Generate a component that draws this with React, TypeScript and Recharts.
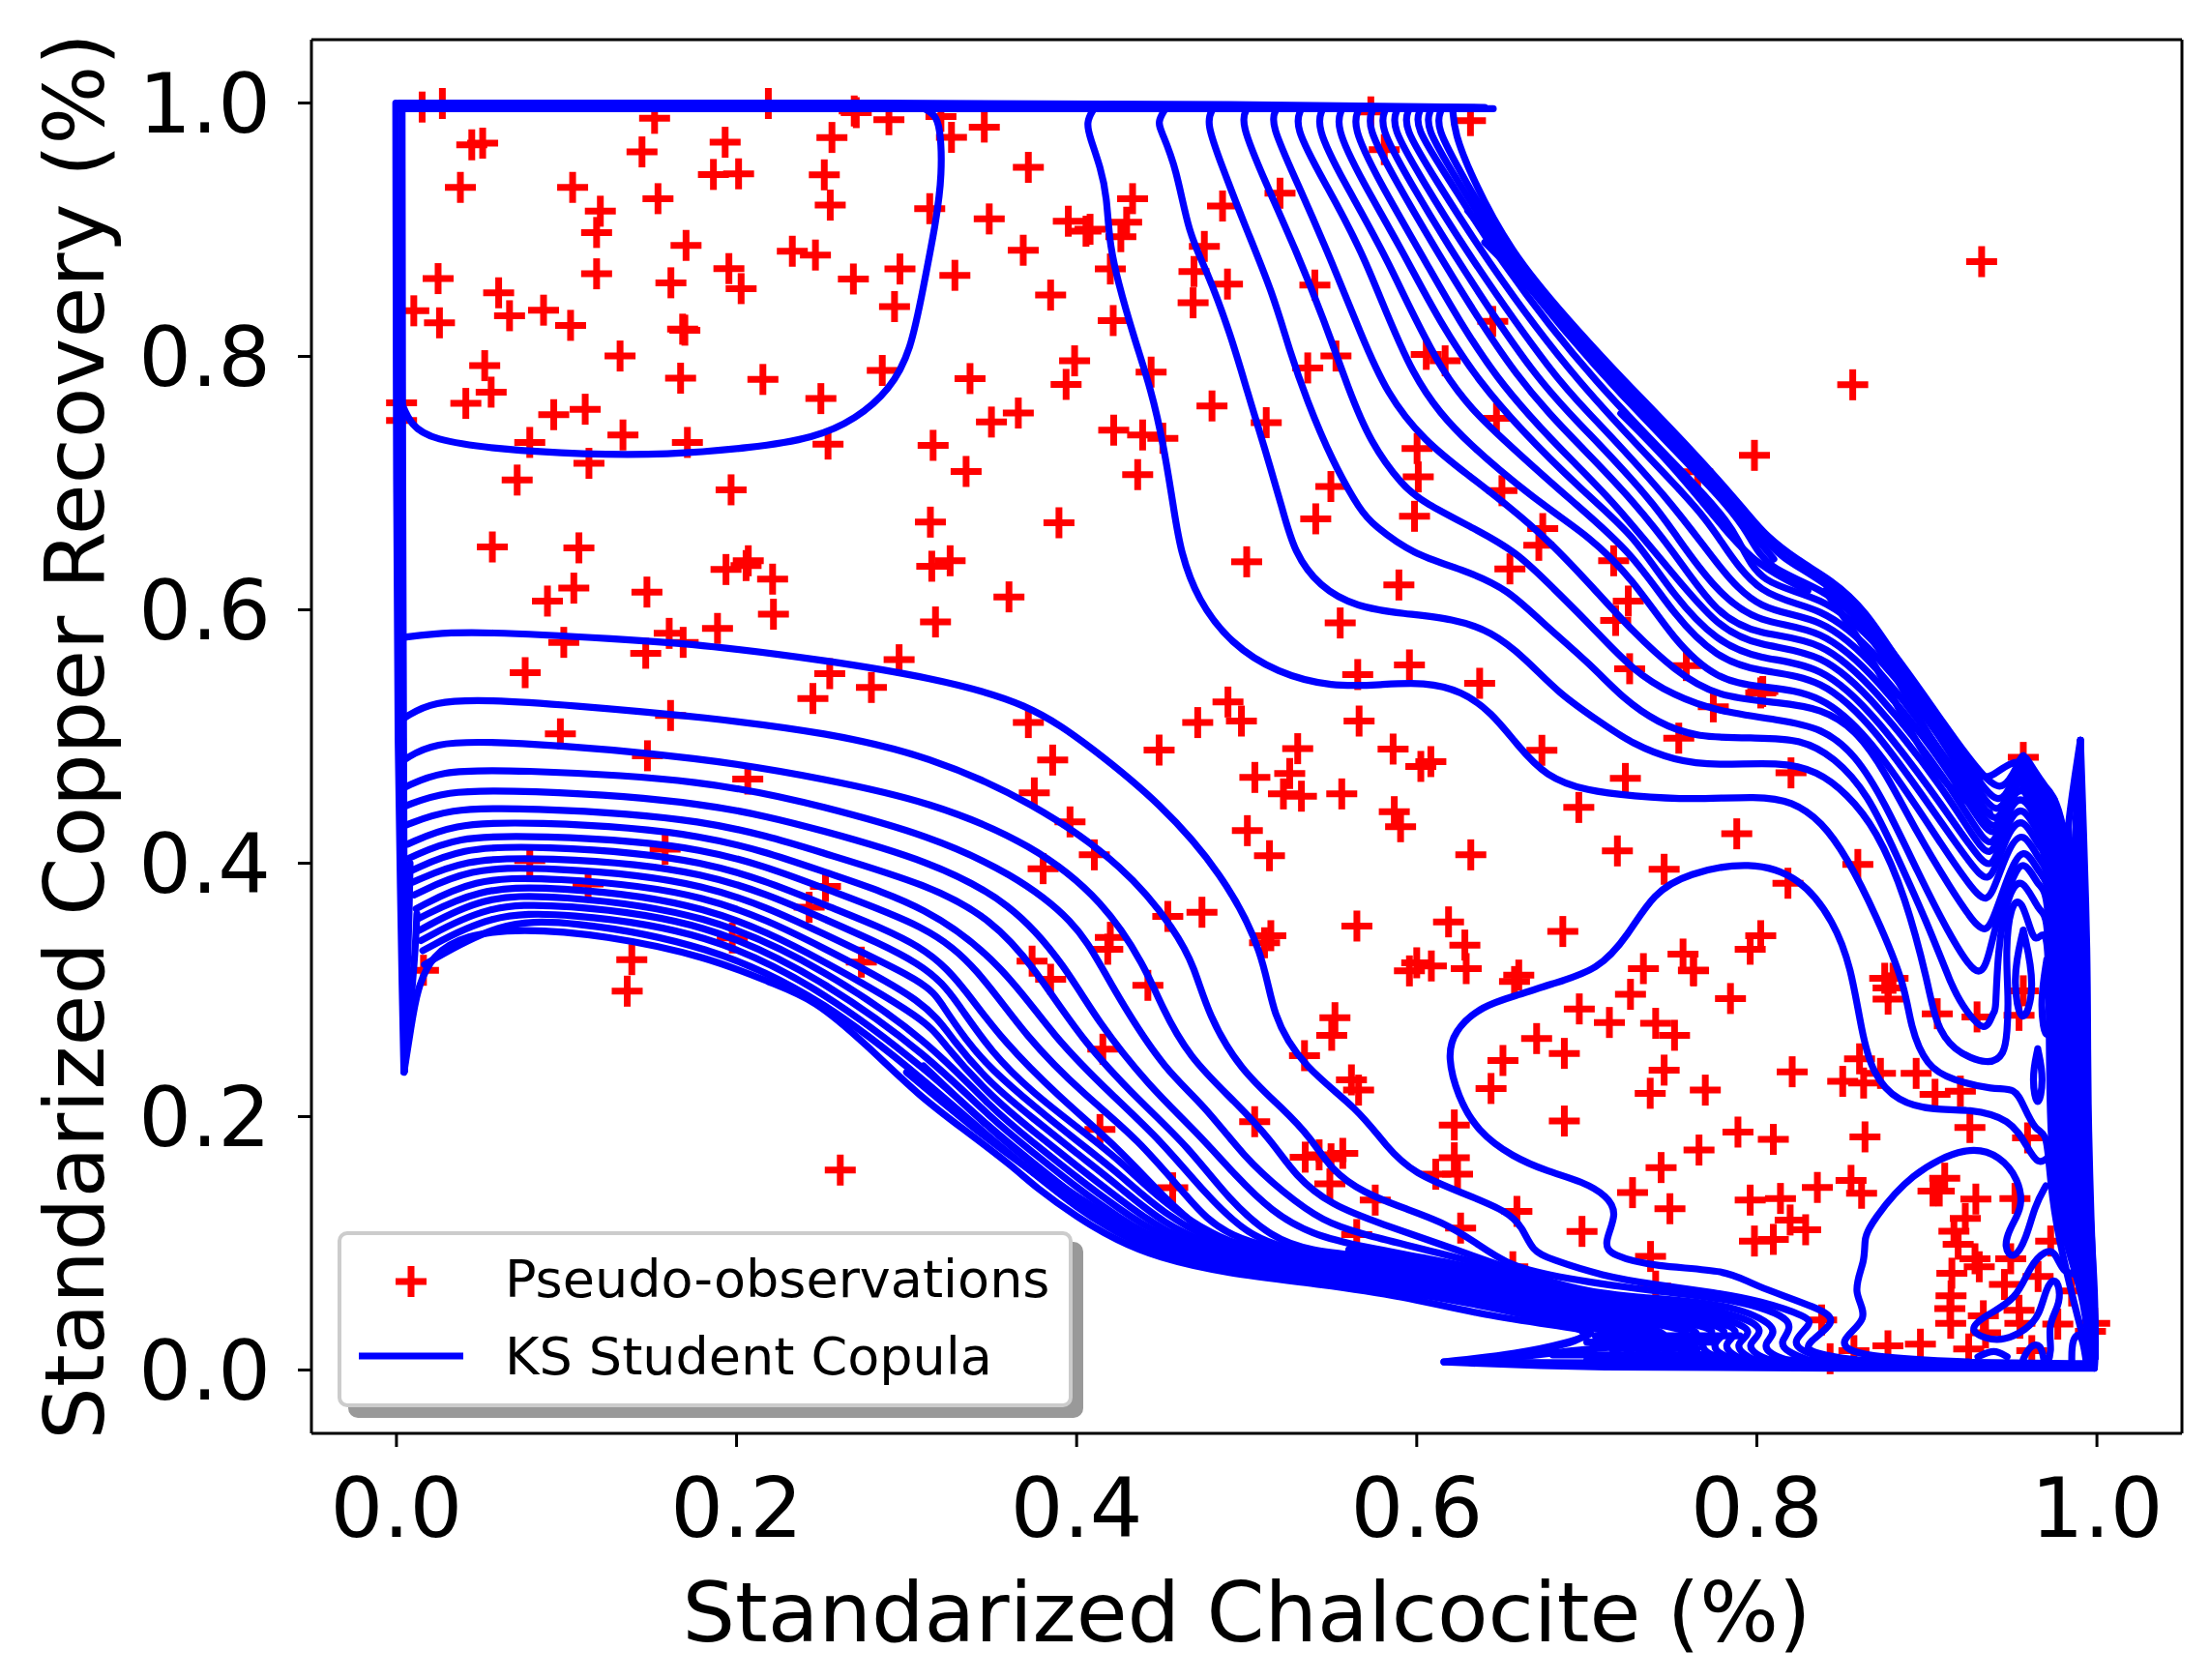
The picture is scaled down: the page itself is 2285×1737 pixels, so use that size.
import React from 'react';
import { ComposedChart, Scatter, Line, XAxis, YAxis, ReferenceLine, Legend, Label } from 'recharts';

type Pair = [number, number];

const FONT = '"DejaVu Sans", sans-serif';
const BLUE = '#0000ff';
const RED = '#ff0000';

const tickValues = [0, 0.2, 0.4, 0.6, 0.8, 1.0];
const legendNames = ['Pseudo-observations', 'KS Student Copula'];

// pseudo-observations
const observations: Pair[] = [
  [.0151,.9968],[.027,.9996],[.2187,.9996],[.2692,.9937],[.2704,.9924],[.2896,.9868],[.1518,.9879],[.0443,.967],[.0507,.9683],[.1933,.969],
  [.2561,.9728],[.1444,.9614],[.1864,.9436],[.2012,.9441],[.2516,.9433],[.0376,.9334],[.1036,.9334],[.1538,.9245],[.1199,.9146],[.2551,.9194],
  [.3136,.9166],[.1177,.8978],[.1703,.8876],[.2328,.883],[.2464,.88],[.1177,.8652],[.1955,.8693],[.2961,.869],[.0245,.8614],[.2687,.8611],
  [.1614,.8581],[.2027,.8535],[.0601,.8502],[.0865,.8365],[.0102,.836],[.0665,.8321],[.2929,.8393],[.0253,.8265],[.1024,.8245],[.1683,.8215],
  [.1696,.8207],[.1315,.8003],[.0519,.7927],[.1671,.7828],[.2155,.7818],[.2857,.7889],[.0557,.7718],[.0408,.7629],[.003,.7634],[.003,.7494],
  [.111,.7583],[.0925,.754],[.2496,.7667],[.1332,.738],[.0784,.7321],[.1711,.7321],[.2538,.7308],[.3156,.7298],[.1132,.7156],[.071,.7024],
  [.1968,.6947],[.6316,.9861],[.573,.993],[.5809,.9632],[.3202,.9894],[.3264,.9729],[.3457,.981],[.3716,.9492],[.4329,.9245],[.3486,.9085],
  [.3951,.9067],[.4055,.8988],[.4079,.9003],[.4294,.9059],[.426,.8945],[.3686,.8838],[.3284,.864],[.4198,.869],[.469,.867],[.4751,.8868],
  [.4858,.9187],[.5196,.9288],[.4887,.8571],[.4685,.8423],[.3847,.8484],[.4215,.8283],[.5401,.8563],[.6447,.8276],[.3988,.7965],[.4438,.7876],
  [.3373,.7825],[.3938,.7779],[.5359,.7909],[.5525,.8003],[.6056,.8016],[.6167,.7965],[.4796,.7609],[.5115,.7477],[.3657,.7553],[.3499,.7482],
  [.4218,.7418],[.4388,.738],[.4507,.7354],[.6469,.7512],[.6002,.7273],[.6009,.7049],[.335,.7092],[.4359,.7067],[.5495,.6973],[.6501,.694],
  [.314,.6692],[.3896,.6687],[.5406,.6718],[.5987,.6738],[.3256,.6387],[.5,.6379],[.3148,.6344],[.6741,.6641],[.6718,.6509],[.6548,.6323],
  [.5895,.6196],[.3602,.6102],[.317,.5904],[.555,.5896],[.5957,.5565],[.5653,.5489],[.637,.542],[.489,.5272],[.4969,.5122],[.4712,.511],
  [.3716,.511],[.5661,.5122],[.6736,.4891],[.53,.4904],[.5861,.4901],[.4485,.4893],[.3859,.4814],[.6083,.4802],[.6024,.4764],[.5253,.4708],
  [.5048,.4677],[.3751,.4555],[.5216,.4547],[.5322,.4529],[.5559,.4547],[.6953,.444],[.5868,.4407],[.5905,.4288],[.3961,.4326],[.5004,.4257],
  [.5134,.4059],[.6318,.4066],[.4104,.4066],[.3803,.3957],[.4536,.358],[.4737,.3613],[.4198,.3415],[.4183,.3321],[.3738,.3227],[.3847,.3084],
  [.5648,.3504],[.6187,.3537],[.6283,.3354],[.6859,.3461],[.5142,.3428],[.5105,.3372],[.6,.3214],[.6086,.3189],[.5957,.315],[.6291,.3168],
  [.66,.3117],[.6575,.3066],[.4419,.3036],[.0564,.6496],[.1073,.6489],[.2069,.6387],[.2056,.6349],[.1938,.6318],[.2212,.6242],[.1043,.6171],
  [.0888,.6069],[.1473,.614],[.2217,.5965],[.1888,.5853],[.1604,.5814],[.1686,.5743],[.0984,.5743],[.1466,.5657],[.2956,.5606],[.0757,.5504],
  [.2548,.5496],[.2793,.5387],[.2449,.53],[.1612,.5166],[.0964,.5021],[.1476,.4848],[.2066,.4664],[.158,.411],[.0784,.4021],[.1127,.3835],
  [.2523,.3817],[.2427,.3652],[.1975,.341],[.2734,.3219],[.1384,.3239],[.1357,.299],[.0159,.3155],[.261,.1578],[.4154,.2532],[.4137,.1898],
  [.4565,.1438],[.5047,.196],[.5519,.2781],[.55,.2642],[.534,.2481],[.5616,.229],[.5658,.2209],[.6221,.1934],[.6221,.1675],[.624,.1545],
  [.6112,.1545],[.5344,.168],[.5426,.1698],[.5565,.171],[.5496,.1667],[.5489,.1469],[.5756,.1341],[.5647,.1069],[.6258,.112],[.6589,.1252],
  [.6565,.0815],[.6972,.1094],[.6868,.1965],[.6705,.2616],[.6507,.2443],[.6437,.2222],[.6868,.2499],[.6956,.285],[.7627,.3156],[.7333,.3168],
  [.7257,.2965],[.7845,.2932],[.7133,.2743],[.7405,.2736],[.7516,.2642],[.7455,.2367],[.7373,.2184],[.7697,.2209],[.7889,.1878],[.8097,.182],
  [.766,.1736],[.7437,.1598],[.7269,.14],[.7489,.1273],[.7375,.0896],[.7405,.0662],[.7961,.1341],[.8139,.1354],[.8356,.1441],[.8554,.1497],
  [.8616,.1395],[.8196,.1184],[.8287,.1107],[.7986,.1018],[.8097,.1031],[.8636,.184],[.8208,.2354],[.8505,.2278],[.8604,.2456],[.8727,.2341],
  [.8628,.2265],[.8937,.2341],[.9048,.2176],[.9197,.2201],[.9253,.1914],[.9592,.1832],[.8752,.3092],[.8801,.3092],[.8772,.3016],[.8772,.2927],
  [.9061,.2812],[.9295,.2787],[.9567,.2993],[.9542,.2799],[.9105,.1514],[.9073,.1413],[.9036,.1413],[.9288,.1349],[.9518,.1354],[.9226,.1196],
  [.9159,.1095],[.9184,.0993],[.9283,.0878],[.9308,.0815],[.9147,.0764],[.9493,.0878],[.9456,.0675],[.9728,.1018],[.9654,.0738],[.9851,.0624],
  [.9142,.0585],[.9135,.0484],[.9332,.0428],[.9542,.0471],[.9547,.0369],[.914,.0369],[.977,.0362],[.9987,.0369],[.9345,.0293],[.8771,.0191],
  [.8962,.0204],[.8571,.0153],[.8431,.0089],[.9246,.0166],[.9617,.0153],[.8381,.0395],[.9962,.0306],[.9322,.8748],[.8564,.7776],[.7986,.7219],
  [.7652,.7089],[.7158,.6387],[.7244,.6069],[.717,.5916],[.7252,.5535],[.7585,.556],[.7744,.5234],[.8023,.5344],[.8035,.5355],[.7541,.4987],
  [.7227,.4669],[.8201,.4713],[.7882,.4232],[.718,.4097],[.7455,.3952],[.8594,.399],[.8183,.3842],[.7566,.3283],[.7628,.315],[.8023,.3428],
  [.7961,.3321],[.9567,.4835],
];

// outlines along the top and left of the unit square
const topEdgeA: Pair[] = [[.0015,1.0],[.3,1.0],[.5,.999],[.64,.9965]];
const topEdgeB: Pair[] = [[.0015,.9955],[.3,.9955],[.5,.9955],[.645,.9955]];
const leftEdgeA: Pair[] = [[-.0004,1.0],[0,.6845],[.0009,.48],[.0024,.379],[.0033,.303],[.0044,.236]];
const leftEdgeB: Pair[] = [[.0033,.998],[.0036,.7],[.0042,.5],[.0048,.236]];
const spikeA: Pair[] = [[.0044,.236],[.006,.30],[.0075,.36],[.008,.40]];
const spikeB: Pair[] = [[.0044,.236],[.0085,.29],[.011,.33],[.012,.36]];
const cornerLoop: Pair[] = [[.003,.7634],[.0085,.7456],[.0208,.7342],[.0603,.7265],[.1098,.7227],[.1592,.7222],[.2086,.7278],[.2457,.7354],[.2704,.7507],[.2901,.7736],[.3025,.804],[.3099,.855],[.3173,.9059],[.321,.9441],[.3198,.9823],[.3161,.9912],[.3112,.995]];

// lower family, left edge into the band above the x axis
const low01: Pair[] = [[.003,.578],[.02,.581],[.048,.583],[.131,.577],[.1839,.572],[.2531,.56],[.3128,.547],[.372,.527],[.41,.49],[.4487,.448],[.4858,.392],[.5105,.328],[.5147,.28],[.5333,.239],[.5658,.206],[.5821,.176],[.5984,.155],[.6263,.14],[.6542,.125],[.6623,.112],[.6681,.094],[.6775,.088],[.7096,.074],[.7393,.0675],[.7763,.061],[.8011,.055],[.8307,.042],[.832,.036],[.8208,.023],[.8258,.015],[.8406,.009]];
const low02: Pair[] = [[.005,.515],[.021,.528],[.055,.529],[.1,.525],[.1839,.515],[.2531,.503],[.3128,.485],[.3746,.448],[.4289,.397],[.4586,.346],[.4693,.318],[.4775,.28],[.4961,.237],[.5216,.206],[.5379,.183],[.5496,.158],[.5682,.14],[.594,.127],[.6147,.117],[.6333,.102],[.6519,.084],[.6775,.074],[.7393,.062],[.7887,.056],[.8258,.039],[.8122,.022],[.8183,.014],[.83,.008]];
const low03: Pair[] = [[.005,.482],[.0208,.495],[.06,.497],[.1839,.483],[.2531,.466],[.3128,.449],[.3746,.415],[.4166,.369],[.4403,.318],[.4496,.288],[.4658,.247],[.4937,.211],[.5147,.181],[.5286,.153],[.5496,.13],[.5798,.115],[.6147,.099],[.6519,.081],[.70,.06],[.75,.056],[.79,.05],[.815,.032],[.803,.021],[.808,.012],[.82,.007]];
const low04: Pair[] = [[.005,.46],[.0258,.473],[.065,.474],[.1839,.466],[.2531,.444],[.3128,.422],[.3622,.392],[.3993,.354],[.4147,.318],[.4286,.285],[.4519,.237],[.4751,.209],[.4984,.168],[.5216,.14],[.5449,.117],[.5682,.107],[.6147,.092],[.66,.076],[.70,.058],[.75,.052],[.79,.044],[.806,.031],[.794,.021],[.799,.012],[.81,.007]];
const low05: Pair[] = [[.005,.445],[.0282,.457],[.07,.458],[.1839,.449],[.2531,.425],[.3128,.402],[.3622,.369],[.3937,.318],[.4123,.275],[.4426,.224],[.4705,.188],[.4937,.153],[.5147,.125],[.5379,.107],[.5682,.097],[.62,.085],[.66,.072],[.70,.056],[.75,.049],[.785,.04],[.799,.03],[.787,.021],[.792,.012],[.80,.007]];
const low06: Pair[] = [[.0055,.43],[.0307,.443],[.072,.444],[.1839,.436],[.2531,.407],[.3128,.383],[.3499,.356],[.3751,.318],[.403,.26],[.4379,.211],[.4658,.176],[.4891,.135],[.5147,.104],[.5379,.094],[.5682,.09],[.62,.082],[.66,.069],[.70,.054],[.75,.046],[.78,.038],[.791,.03],[.78,.021],[.785,.012],[.795,.007]];
const low07: Pair[] = [[.0065,.415],[.0332,.431],[.075,.433],[.1839,.425],[.2531,.392],[.3128,.366],[.3577,.318],[.3868,.262],[.4216,.216],[.4496,.181],[.4751,.14],[.503,.102],[.54,.091],[.60,.084],[.66,.066],[.70,.052],[.75,.043],[.775,.036],[.784,.03],[.773,.021],[.778,.012],[.79,.007]];
const low08: Pair[] = [[.0075,.404],[.0356,.421],[.078,.422],[.1839,.415],[.2531,.379],[.3128,.35],[.3414,.318],[.3705,.262],[.4054,.216],[.4356,.183],[.4658,.135],[.4868,.104],[.54,.089],[.60,.082],[.66,.064],[.70,.05],[.75,.04],[.77,.034],[.776,.03],[.766,.021],[.771,.012],[.785,.007]];
const low09: Pair[] = [[.0085,.394],[.0381,.412],[.08,.414],[.1839,.405],[.2531,.366],[.3128,.335],[.3356,.298],[.3565,.26],[.3891,.216],[.424,.176],[.4519,.135],[.4751,.108],[.4868,.102],[.54,.086],[.60,.08],[.66,.062],[.70,.048],[.75,.037],[.769,.03],[.759,.021],[.764,.012],[.78,.007]];
const low10: Pair[] = [[.0095,.385],[.0406,.403],[.082,.405],[.1839,.396],[.2531,.355],[.3128,.32],[.33,.29],[.35,.25],[.375,.218],[.40,.192],[.425,.166],[.45,.133],[.4868,.099],[.54,.084],[.60,.077],[.66,.06],[.70,.046],[.75,.034],[.762,.03],[.752,.021],[.757,.012],[.775,.007]];
const low11: Pair[] = [[.0105,.375],[.0431,.396],[.085,.397],[.1839,.387],[.2531,.343],[.3128,.305],[.32,.29],[.335,.26],[.35,.237],[.375,.208],[.40,.181],[.425,.155],[.45,.124],[.4868,.096],[.54,.082],[.60,.075],[.66,.058],[.70,.044],[.752,.03],[.742,.021],[.747,.012],[.77,.007]];
const low12: Pair[] = [[.0115,.364],[.0455,.388],[.088,.389],[.1839,.378],[.2531,.332],[.3128,.29],[.327,.26],[.35,.225],[.375,.198],[.40,.171],[.425,.145],[.45,.116],[.4868,.093],[.54,.08],[.60,.073],[.66,.056],[.70,.042],[.744,.03],[.734,.021],[.739,.012],[.76,.007]];
const low13: Pair[] = [[.0125,.356],[.048,.38],[.09,.382],[.1839,.369],[.2531,.322],[.3128,.275],[.32,.26],[.35,.215],[.375,.188],[.40,.161],[.425,.135],[.45,.11],[.4868,.09],[.54,.078],[.60,.071],[.66,.054],[.70,.04],[.737,.03],[.727,.021],[.732,.012],[.75,.007]];
const low14: Pair[] = [[.0135,.347],[.0505,.374],[.092,.375],[.1839,.361],[.2531,.315],[.3128,.26],[.35,.206],[.375,.179],[.40,.152],[.425,.127],[.45,.105],[.4868,.087],[.54,.076],[.60,.069],[.66,.052],[.70,.038],[.729,.03],[.72,.021],[.725,.012],[.74,.007]];
const low15: Pair[] = [[.0145,.339],[.053,.367],[.095,.368],[.1839,.354],[.2531,.306],[.3128,.248],[.35,.198],[.375,.171],[.40,.144],[.425,.12],[.45,.1],[.4868,.084],[.54,.074],[.60,.067],[.66,.05],[.70,.036],[.722,.03],[.712,.021],[.717,.012],[.73,.007]];
const low16: Pair[] = [[.0155,.331],[.0554,.36],[.098,.361],[.1839,.346],[.2531,.298],[.3128,.236],[.35,.19],[.375,.163],[.40,.136],[.425,.113],[.45,.096],[.4868,.081],[.54,.072],[.60,.064],[.66,.048],[.70,.034],[.715,.03],[.705,.022],[.70,.012],[.72,.006]];
const low17: Pair[] = [[.0165,.32],[.0604,.354],[.10,.355],[.1839,.336],[.2531,.291],[.3128,.226],[.35,.182],[.375,.155],[.40,.128],[.425,.107],[.45,.092],[.4868,.0785],[.54,.07],[.60,.061],[.66,.045],[.707,.031],[.69,.02],[.65,.01],[.62,.0065],[.70,.004]];
const low18: Pair[] = [[.0044,.235],[.0085,.27],[.012,.30],[.0208,.328],[.0406,.3435],[.0727,.3486],[.1221,.3435],[.1839,.326],[.221,.305],[.2456,.2927],[.2763,.257],[.3072,.2163],[.3356,.188],[.363,.16],[.3751,.145],[.4007,.12],[.424,.102],[.4472,.089],[.4868,.0764],[.5449,.0675],[.5914,.0585],[.6379,.0433],[.7003,.0318],[.705,.029],[.69,.022],[.66,.013],[.616,.0064]];
const lowFillA: Pair[] = [[.30,.235],[.34,.19],[.37,.16],[.40,.132],[.43,.105],[.47,.085]];
const lowFillB: Pair[] = [[.31,.24],[.345,.195],[.38,.155],[.41,.128],[.44,.105]];

// bottom edge and the wedge below the band
const bottomEdgeA: Pair[] = [[.616,.0064],[.70,.0015],[.85,.0015],[.9985,.0015]];
const bottomEdgeB: Pair[] = [[.66,.006],[.75,.005],[.85,.007],[.93,.006],[.997,.005]];
const wedgeA: Pair[] = [[.62,.0065],[.66,.01],[.70,.017],[.74,.02]];
const bandA: Pair[] = [[.70,.036],[.72,.036],[.74,.036]];
const bandB: Pair[] = [[.705,.027],[.75,.027],[.79,.027]];
const bandC: Pair[] = [[.70,.022],[.74,.022],[.775,.022]];
const bandD: Pair[] = [[.72,.017],[.74,.017],[.765,.017]];
const bandE: Pair[] = [[.68,.012],[.72,.012],[.77,.012]];
const bandF: Pair[] = [[.70,.008],[.78,.008],[.84,.008]];
const bandG: Pair[] = [[.5,.095],[.56,.087],[.62,.077],[.68,.058],[.72,.05],[.76,.045]];
const bandH: Pair[] = [[.5,.085],[.56,.079],[.62,.068],[.68,.05],[.72,.042],[.76,.039]];
const bandI: Pair[] = [[.48,.085],[.56,.072],[.62,.061],[.68,.042],[.72,.04]];
const bandJ: Pair[] = [[.56,.095],[.62,.08],[.68,.064],[.74,.05],[.78,.046]];

// upper family, top edge round the hump into the right edge
const up01: Pair[] = [[.41,.995],[.4055,.985],[.408,.972],[.4141,.949],[.4178,.926],[.4191,.891],[.424,.86],[.4339,.814],[.4438,.774],[.4512,.73],[.4574,.677],[.4611,.646],[.471,.608],[.4907,.573],[.518,.55],[.55,.539],[.5797,.541],[.6044,.543],[.6266,.536],[.644,.519],[.6587,.494],[.676,.468],[.7003,.457],[.7269,.453],[.7615,.45],[.8011,.453],[.8208,.449],[.8381,.433],[.8529,.405],[.8702,.359],[.8875,.303],[.89,.272],[.8999,.239],[.9147,.229],[.9394,.221],[.9518,.223],[.9567,.209],[.9641,.188],[.9703,.188],[.972,.16],[.975,.12],[.985,.06],[.995,.01]];
const up02: Pair[] = [[.452,.995],[.4475,.985],[.45,.977],[.4586,.949],[.466,.896],[.4759,.87],[.4907,.817],[.5006,.771],[.5105,.728],[.5216,.677],[.5278,.646],[.5426,.618],[.5648,.602],[.592,.597],[.6217,.593],[.6439,.583],[.6637,.562],[.6835,.534],[.7072,.512],[.7269,.494],[.7516,.481],[.7763,.477],[.8134,.48],[.8356,.473],[.8529,.455],[.8702,.427],[.8875,.374],[.9011,.303],[.9048,.275],[.9147,.252],[.9369,.24],[.9456,.249],[.9472,.2661],[.9481,.293],[.9462,.331],[.9491,.367],[.9557,.374],[.9624,.338],[.9662,.342],[.9709,.347],[.972,.3],[.972,.2],[.976,.12],[.9925,.06],[.996,.01]];
const up03: Pair[] = [[.48,.995],[.4759,.985],[.4858,.949],[.4981,.906],[.5154,.85],[.5253,.804],[.5352,.766],[.55,.718],[.5673,.677],[.5747,.667],[.597,.644],[.6291,.631],[.6538,.616],[.6736,.59],[.7022,.557],[.722,.529],[.7417,.511],[.764,.499],[.8011,.499],[.8258,.498],[.8455,.484],[.8653,.455],[.8826,.405],[.8999,.354],[.9147,.303],[.9197,.29],[.9345,.263],[.9394,.285],[.9405,.2805],[.9415,.331],[.9472,.374],[.9557,.392],[.9662,.36],[.9709,.362],[.9725,.3],[.973,.2],[.977,.12],[.993,.06],[.996,.01]];
const up04: Pair[] = [[.5,.995],[.4961,.985],[.5105,.939],[.5302,.88],[.5451,.83],[.5599,.774],[.5723,.733],[.592,.697],[.6044,.6845],[.634,.664],[.6587,.646],[.681,.616],[.7022,.588],[.7269,.552],[.7516,.532],[.7763,.52],[.8134,.513],[.8381,.507],[.858,.486],[.8752,.448],[.895,.392],[.9122,.346],[.9295,.308],[.9357,.321],[.9407,.354],[.9493,.385],[.9567,.406],[.966,.38],[.971,.38],[.974,.3],[.974,.2],[.978,.12],[.9935,.06],[.9965,.01]];
const up05: Pair[] = [[.5175,.995],[.5134,.985],[.5302,.936],[.55,.875],[.5673,.817],[.5821,.771],[.6044,.733],[.6316,.705],[.6538,.682],[.6775,.655],[.7047,.616],[.7269,.583],[.7516,.552],[.7763,.531],[.8134,.527],[.8381,.522],[.858,.506],[.8752,.473],[.895,.422],[.9122,.384],[.932,.343],[.9382,.351],[.9468,.387],[.9567,.417],[.9666,.39],[.9728,.385],[.975,.3],[.975,.2],[.979,.12],[.994,.06],[.9965,.01]];
const up06: Pair[] = [[.532,.995],[.5278,.982],[.5445,.94],[.5698,.88],[.597,.78],[.63,.73],[.6775,.679],[.7003,.659],[.7269,.625],[.7516,.575],[.7763,.545],[.8011,.539],[.8381,.535],[.8702,.494],[.9122,.407],[.932,.369],[.9382,.373],[.947,.41],[.9567,.428],[.9666,.4],[.9725,.396],[.976,.3],[.976,.2],[.98,.12],[.9945,.06],[.997,.01]];
const up07: Pair[] = [[.5446,.995],[.5406,.982],[.556,.94],[.5821,.88],[.6155,.78],[.65,.735],[.6923,.6845],[.7269,.645],[.7516,.595],[.7763,.562],[.8011,.551],[.8381,.547],[.8702,.506],[.9122,.425],[.933,.385],[.939,.39],[.9475,.425],[.9567,.438],[.9666,.41],[.9735,.405],[.977,.3],[.977,.2],[.981,.12],[.995,.06],[.997,.01]];
const up08: Pair[] = [[.556,.995],[.552,.982],[.567,.94],[.5933,.88],[.6315,.78],[.7047,.6845],[.7269,.66],[.7516,.61],[.7763,.575],[.8011,.561],[.8381,.557],[.8702,.516],[.9122,.44],[.934,.396],[.94,.4],[.948,.435],[.9567,.447],[.9666,.42],[.974,.412],[.978,.3],[.979,.2],[.982,.12],[.9955,.06],[.9975,.01]];
const up09: Pair[] = [[.5659,.995],[.5619,.982],[.577,.94],[.6031,.88],[.645,.78],[.7003,.706],[.7158,.6845],[.7516,.627],[.7763,.587],[.8011,.571],[.8381,.567],[.8702,.527],[.9122,.455],[.934,.405],[.94,.41],[.9485,.445],[.9567,.455],[.9666,.43],[.975,.42],[.979,.3],[.98,.2],[.983,.12],[.996,.06],[.9975,.01]];
const up10: Pair[] = [[.5743,.995],[.5703,.982],[.587,.94],[.613,.88],[.659,.78],[.7003,.724],[.7282,.6845],[.7516,.645],[.7763,.596],[.8011,.58],[.8381,.577],[.8702,.537],[.9122,.466],[.9348,.412],[.941,.418],[.949,.452],[.9567,.462],[.9666,.44],[.976,.428],[.98,.3],[.982,.2],[.985,.12],[.9965,.06],[.998,.01]];
const up11: Pair[] = [[.5817,.995],[.5777,.982],[.595,.94],[.6217,.88],[.671,.78],[.7003,.741],[.7393,.6845],[.7516,.66],[.7763,.614],[.8011,.589],[.8381,.586],[.8702,.547],[.9122,.476],[.9358,.421],[.942,.425],[.95,.458],[.9567,.468],[.9666,.448],[.977,.436],[.982,.3],[.984,.2],[.987,.12],[.997,.06],[.998,.01]];
const up12: Pair[] = [[.5886,.995],[.5846,.982],[.603,.94],[.6303,.88],[.683,.78],[.7003,.757],[.7504,.6845],[.7763,.636],[.8011,.598],[.8381,.595],[.8702,.557],[.9122,.483],[.9362,.426],[.943,.43],[.951,.462],[.9567,.473],[.9666,.452],[.978,.442],[.984,.3],[.986,.2],[.989,.12],[.9975,.06],[.9985,.01]];
const up13: Pair[] = [[.5955,.995],[.5915,.982],[.611,.94],[.639,.88],[.693,.78],[.7628,.6845],[.7763,.66],[.8011,.609],[.8381,.603],[.8702,.567],[.9122,.494],[.9367,.432],[.944,.436],[.952,.466],[.9567,.477],[.9666,.455],[.979,.445],[.986,.3],[.988,.2],[.991,.12],[.998,.06],[.9985,.01]];
const up14: Pair[] = [[.6022,.995],[.5982,.982],[.619,.94],[.6464,.88],[.703,.78],[.7751,.6845],[.79,.655],[.8011,.62],[.8381,.611],[.8702,.577],[.9122,.5],[.937,.44],[.945,.443],[.953,.47],[.9567,.481],[.9666,.459],[.98,.45],[.988,.3],[.99,.2],[.993,.12],[.998,.06],[.999,.01]];
const up15: Pair[] = [[.6084,.995],[.6044,.982],[.6235,.94],[.6505,.88],[.712,.78],[.7825,.6845],[.795,.66],[.8058,.632],[.8381,.618],[.8702,.583],[.9122,.503],[.9375,.449],[.946,.45],[.954,.475],[.9567,.484],[.9666,.462],[.981,.45],[.99,.3],[.992,.2],[.995,.12],[.9985,.06],[.999,.01]];
const up16: Pair[] = [[.6146,.995],[.6106,.982],[.628,.94],[.6535,.88],[.718,.78],[.7875,.6845],[.80,.662],[.815,.64],[.8381,.624],[.8702,.588],[.9122,.505],[.938,.459],[.947,.46],[.955,.482],[.9567,.488],[.9666,.465],[.982,.44],[.992,.3],[.993,.2],[.996,.12],[.999,.06],[.999,.01]];
const up17: Pair[] = [[.6212,.995],[.6221,.977],[.632,.942],[.6567,.878],[.6983,.815],[.7175,.787],[.762,.726],[.7953,.675],[.804,.66],[.8238,.639],[.8435,.624],[.8633,.601],[.8855,.555],[.9102,.504],[.93,.469],[.9369,.4655],[.9555,.4885],[.9695,.459],[.9782,.425],[.984,.33]];

// where the upper lines run together
const massA: Pair[] = [[.84,.615],[.86,.578],[.88,.532],[.90,.478],[.9246,.445],[.9369,.44]];
const massB: Pair[] = [[.84,.622],[.865,.585],[.885,.54],[.905,.49],[.93,.452]];
const massC: Pair[] = [[.845,.62],[.87,.582],[.89,.535],[.91,.495],[.933,.46]];
const massD: Pair[] = [[.68,.835],[.70,.80],[.73,.762],[.76,.722],[.79,.675]];
const massE: Pair[] = [[.64,.89],[.67,.85],[.70,.805],[.73,.765],[.76,.72],[.785,.68],[.81,.64]];
const massF: Pair[] = [[.63,.915],[.66,.865],[.69,.815],[.72,.77],[.75,.73],[.775,.695]];
const massG: Pair[] = [[.72,.755],[.75,.715],[.78,.665],[.80,.635],[.83,.615]];
const humpA: Pair[] = [[.9567,.47],[.965,.43],[.972,.39],[.975,.34]];
const humpB: Pair[] = [[.9567,.46],[.968,.42],[.975,.38],[.978,.33]];
const humpC: Pair[] = [[.96,.47],[.971,.43],[.978,.40],[.982,.34]];
const humpD: Pair[] = [[.9567,.485],[.967,.455],[.976,.42],[.98,.36]];
const humpE: Pair[] = [[.966,.44],[.972,.40],[.974,.35],[.972,.31]];
const humpF: Pair[] = [[.975,.45],[.978,.40],[.98,.33]];
const humpG: Pair[] = [[.983,.43],[.985,.37]];

// spike at the right edge
const spikeC: Pair[] = [[.9903,.497],[.9825,.43],[.978,.35],[.976,.3]];
const spikeD: Pair[] = [[.9903,.497],[.987,.43],[.985,.3],[.985,.2]];
const spikeE: Pair[] = [[.9903,.497],[.990,.4],[.99,.25]];
const rightEdge: Pair[] = [[.9903,.497],[.992,.43],[.9944,.33],[.9945,.25],[.995,.19],[.9965,.12],[.998,.06],[.9995,.02],[.9985,.0015]];
const columnA: Pair[] = [[.974,.34],[.973,.25],[.975,.16],[.98,.11]];
const columnB: Pair[] = [[.977,.35],[.977,.25],[.979,.15]];
const columnC: Pair[] = [[.981,.35],[.981,.24],[.983,.14]];
const columnD: Pair[] = [[.987,.38],[.988,.25],[.989,.14]];
const columnE: Pair[] = [[.991,.40],[.992,.25],[.993,.13]];

// inner contours near the lower right
const archA: Pair[] = [[.9715,.168],[.9654,.1616],[.9592,.1756],[.9493,.1985],[.9246,.2061],[.9048,.2049],[.8826,.2112],[.8678,.2341],[.8616,.2672],[.8554,.318],[.8455,.3537],[.8258,.3893],[.7961,.402],[.759,.3919],[.7393,.3766],[.7244,.3435],[.7072,.3155],[.6775,.3041],[.6612,.2965],[.6379,.2876],[.6216,.2672],[.6181,.2469],[.624,.2163],[.6356,.1883],[.6565,.168],[.6775,.1565],[.6973,.1489],[.7121,.1374],[.7183,.1234],[.7096,.0993],[.7146,.0904],[.7393,.0815],[.7837,.0789],[.7961,.0675],[.8381,.0484],[.848,.0382],[.8282,.0204],[.8307,.014],[.8554,.0077],[.8999,.0039]];
const archB: Pair[] = [[.97,.1454],[.9633,.1292],[.9586,.104],[.951,.086],[.9449,.0968],[.9491,.113],[.9567,.1292],[.9538,.1508],[.9434,.1689],[.9244,.1779],[.89,.1552],[.8678,.1171],[.8628,.1044],[.8641,.0865],[.8554,.0611],[.8678,.0407],[.8455,.0217],[.8604,.0102],[.9246,.0064]];
const archC: Pair[] = [[.9928,.068],[.989,.077],[.9804,.0752],[.9757,.0932],[.97,.095],[.9605,.0824],[.9529,.0554],[.9339,.0428],[.9244,.032],[.9339,.0248],[.9453,.023],[.9586,.032],[.9662,.0428],[.97,.0644],[.9747,.0734],[.9785,.0644],[.9776,.05],[.971,.0356],[.9738,.014],[.97,.003]];
const bumpA: Pair[] = [[.93,.0104],[.9396,.0168],[.9472,.0104]];
const bumpB: Pair[] = [[.9567,.0086],[.9605,.0194],[.9671,.0212],[.969,.0067]];
const bumpC: Pair[] = [[.9852,.0068],[.9852,.0248],[.9909,.0313],[.9937,.0068]];
const loopA: Pair[] = [[.9567,.3472],[.95,.3094],[.9557,.2661],[.9643,.3021],[.9567,.3472]];
const loopB: Pair[] = [[.9652,.2535],[.9614,.2296],[.9652,.203],[.969,.2296],[.9652,.2535]];
const loopC: Pair[] = [[.9705,.3238],[.9662,.2875],[.9705,.2535],[.974,.2875],[.9705,.3238]];

const contours: Pair[][] = [
  topEdgeA, topEdgeB, leftEdgeA, leftEdgeB, spikeA, spikeB, cornerLoop,
  low01, low02, low03, low04, low05, low06, low07, low08, low09, low10, low11, low12, low13, low14, low15, low16, low17, low18, lowFillA, lowFillB,
  bottomEdgeA, bottomEdgeB, wedgeA, bandA, bandB, bandC, bandD, bandE, bandF, bandG, bandH, bandI, bandJ,
  up01, up02, up03, up04, up05, up06, up07, up08, up09, up10, up11, up12, up13, up14, up15, up16, up17,
  massA, massB, massC, massD, massE, massF, massG, humpA, humpB, humpC, humpD, humpE, humpF, humpG,
  spikeC, spikeD, spikeE, rightEdge, columnA, columnB, columnC, columnD, columnE,
  archA, archB, archC, bumpA, bumpB, bumpC, loopA, loopB, loopC,
];

const toPoints = (pairs: Pair[]) => pairs.map(([x, y]) => ({ x, y }));

const PlusMark = (props: any) => {
  const { cx, cy } = props;
  return (
    <g stroke={RED} strokeWidth={7}>
      <line x1={cx - 16} x2={cx + 16} y1={cy} y2={cy} />
      <line x1={cx} x2={cx} y1={cy - 16} y2={cy + 16} />
    </g>
  );
};

const LegendBox = () => (
  <div style={{ position: 'relative', width: 760, height: 182, fontFamily: FONT, fontSize: 54, color: '#000' }}>
    <div style={{ position: 'absolute', left: 11, top: 11, width: 760, height: 182, background: '#999', borderRadius: 10 }} />
    <div style={{ position: 'absolute', left: 0, top: 0, width: 752, height: 174, background: '#fff', border: '4px solid #ccc', borderRadius: 10 }} />
    <svg style={{ position: 'absolute', left: 0, top: 0 }} width={760} height={182}>
      <line x1={60} x2={92} y1={52} y2={52} stroke={RED} strokeWidth={7} />
      <line x1={76} x2={76} y1={36} y2={68} stroke={RED} strokeWidth={7} />
      <line x1={22} x2={130} y1={129} y2={129} stroke={BLUE} strokeWidth={7} />
    </svg>
    <span style={{ position: 'absolute', left: 173, top: 18, lineHeight: '63px', whiteSpace: 'nowrap' }}>{legendNames[0]}</span>
    <span style={{ position: 'absolute', left: 173, top: 98, lineHeight: '63px', whiteSpace: 'nowrap' }}>{legendNames[1]}</span>
  </div>
);

const tickStyle = { fontSize: 86, fill: '#000', fontFamily: FONT };
const labelStyle = { fontSize: 86, fill: '#000', fontFamily: FONT, textAnchor: 'middle' as const };

export default function App() {
  return (
    <div style={{ position: 'absolute', left: 0, top: 0, background: '#fff' }}>
      <ComposedChart width={2285} height={1737} margin={{ top: 41, right: 29, bottom: 0, left: 0 }}>
        <XAxis
          dataKey="x"
          type="number"
          domain={[-0.05, 1.05]}
          ticks={tickValues}
          interval={0}
          tickFormatter={(v: number) => v.toFixed(1)}
          tick={tickStyle}
          tickSize={14}
          tickMargin={32}
          height={255}
          axisLine={{ stroke: '#000', strokeWidth: 3 }}
          tickLine={{ stroke: '#000', strokeWidth: 3 }}
          allowDataOverflow
        >
          <Label value="Standarized Chalcocite (%)" position="insideBottom" offset={40} style={labelStyle} />
        </XAxis>
        <YAxis
          dataKey="y"
          type="number"
          domain={[-0.05, 1.05]}
          ticks={tickValues}
          interval={0}
          tickFormatter={(v: number) => v.toFixed(1)}
          tick={tickStyle}
          tickSize={14}
          tickMargin={28}
          width={322}
          axisLine={{ stroke: '#000', strokeWidth: 3 }}
          tickLine={{ stroke: '#000', strokeWidth: 3 }}
          allowDataOverflow
        >
          <Label value="Standarized Copper Recovery (%)" angle={-90} position="insideLeft" offset={0} dx={76} style={labelStyle} />
        </YAxis>
        <ReferenceLine x={1.05} stroke="#000" strokeWidth={3} />
        <ReferenceLine y={1.05} stroke="#000" strokeWidth={3} />
        <Scatter
          data={toPoints(observations)}
          dataKey="y"
          shape={PlusMark}
          isAnimationActive={false}
          legendType="none"
          zIndex={350}
        />
        {contours.map((c, i) => (
          <Line
            key={i}
            data={toPoints(c)}
            dataKey="y"
            type="basis"
            stroke={BLUE}
            strokeWidth={7.2}
            strokeLinecap="round"
            dot={false}
            activeDot={false}
            isAnimationActive={false}
            legendType="none"
          />
        ))}
        <Legend
          content={<LegendBox />}
          verticalAlign="middle"
          wrapperStyle={{ position: 'absolute', left: 349, top: 1273, width: 771, height: 194, bottom: 'auto', right: 'auto' }}
        />
      </ComposedChart>
    </div>
  );
}
